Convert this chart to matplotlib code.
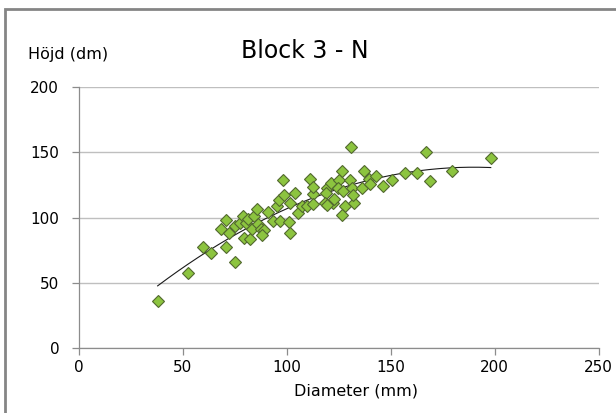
import numpy as np
import matplotlib
matplotlib.use("Agg")
import matplotlib.pyplot as plt
from matplotlib.patches import Rectangle

# ---- data ----
diameter = [38, 52.7, 60, 63.5, 68.6, 70.9, 70.9, 72.2, 75.2, 75, 77.5, 79, 79.7, 80.3,
            81.6, 82.4, 83.5, 84.5, 85.9, 86.4, 87.7, 89.3, 88.3, 90.9, 93.3, 95.2,
            96.8, 96.3, 98.9, 98.4, 101.6, 101.2, 101.6, 104, 105.6, 107.5, 109.7,
            111.3, 112.5, 112.6, 112.8, 119.3, 119, 121.5, 118.5, 122.2, 122.8, 119.3,
            125.4, 124.5, 127.3, 130.5, 131.3, 126.5, 131, 128.1, 132.2, 126.5, 132,
            136.1, 137.4, 139.5, 140.2, 143, 146.5, 150.5, 156.9, 162.5, 167, 168.9,
            179.4, 198.1]
hojd = [36, 57.7, 77.7, 72.6, 91.5, 97.7, 77, 88.3, 66, 93.6, 95.7, 101, 84.2, 95.7,
        98.8, 83.8, 91.1, 100.8, 106.5, 94.9, 91.1, 90.5, 86.7, 104.6, 97.5, 109.2,
        97, 113.6, 117.5, 129, 111.1, 96.9, 88, 118.8, 103.8, 109, 109,
        129.8, 118, 110.5, 123.5, 122.6, 118.8, 126.7, 111.5, 111.5, 114.2, 109.8,
        128.5, 122.6, 120, 129, 122.6, 135.4, 154.2, 109, 111.2, 102.1, 117.5,
        122.6, 136, 129.6, 126, 132.1, 124.4, 128.5, 134.2, 134.2, 150, 127.7,
        135.9, 145.7]
x_ticks = [0, 50, 100, 150, 200, 250]
y_ticks = [0, 50, 100, 150, 200]
title = "Block 3 - N"
x_label = "Diameter (mm)"
y_label = "Höjd (dm)"

plt.rcParams['font.family'] = ['DejaVu Sans']

W, H = 616, 413
fig = plt.figure(figsize=(W / 100, H / 100), dpi=100)
fig.patch.set_facecolor("white")

# outer chart frame (left & top visible)
fig.patches.append(Rectangle((5 / W, -0.2), 1.5, 1 - 9 / H + 0.2,
                             transform=fig.transFigure, fill=False,
                             edgecolor="#858585", linewidth=2.0))

ax = fig.add_axes([78.6 / W, 1 - 347.7 / H, (598.7 - 78.6) / W, (347.7 - 87.3) / H])
ax.set_xlim(0, 250)
ax.set_ylim(0, 200)

axis_col = "#8C8C8C"
grid_col = "#BFBFBF"
for s in ["top", "right"]:
    ax.spines[s].set_visible(False)
for s in ["left", "bottom"]:
    ax.spines[s].set_color(axis_col)
    ax.spines[s].set_linewidth(0.9)

ax.set_xticks(x_ticks)
ax.set_yticks(y_ticks)
ax.tick_params(axis="both", direction="out", color=axis_col, length=5, width=0.9,
               labelsize=11, labelcolor="black")
ax.tick_params(axis="x", pad=4)
ax.tick_params(axis="y", pad=9)
ax.yaxis.grid(True, color=grid_col, linewidth=1.0)
ax.set_axisbelow(True)

# trendline (2nd order polynomial fit)
xd = np.array(diameter)
yd = np.array(hojd)
coef = np.polyfit(xd, yd, 2)
xs = np.linspace(xd.min(), xd.max(), 200)
ax.plot(xs, np.polyval(coef, xs), color="#1a1a1a", linewidth=0.8, zorder=2)

ax.plot(diameter, hojd, linestyle="none", marker="D", markersize=6.2,
        markerfacecolor="#8CC43F", markeredgecolor="#52682F", markeredgewidth=0.8,
        zorder=3)

fig.text(305 / W, 1 - 58 / H, title, ha="center", va="baseline", fontsize=17)
fig.text(28 / W, 1 - 59 / H, y_label, ha="left", va="baseline", fontsize=11.5)
fig.text(356 / W, 1 - 395 / H, x_label, ha="center", va="baseline", fontsize=11.5)

fig.savefig("out.png", dpi=100, facecolor="white")
